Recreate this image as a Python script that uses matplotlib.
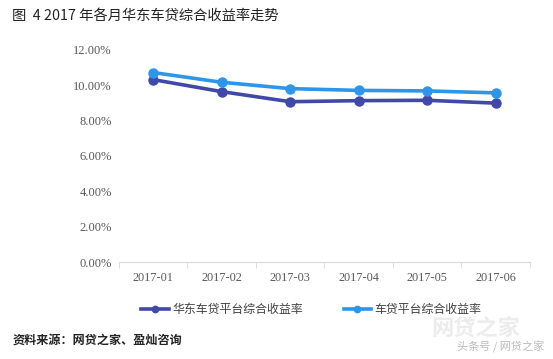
import matplotlib.pyplot as plt
from matplotlib.ticker import FixedLocator

plt.rcParams['font.family'] = ['Noto Sans CJK SC', 'DejaVu Sans']

months = ['2017-01', '2017-02', '2017-03', '2017-04', '2017-05', '2017-06']
huadong = [10.32, 9.64, 9.07, 9.13, 9.15, 8.99]
all_platforms = [10.72, 10.17, 9.81, 9.71, 9.68, 9.57]
yticks = [0, 2, 4, 6, 8, 10, 12]

fig = plt.figure(figsize=(5.53, 3.59), dpi=100)
ax = fig.add_axes([0.215, 0.270, 0.743, 0.591])

x = list(range(len(months)))
ax.plot(x, huadong, color='#4048A8', linewidth=2.6, marker='o', markersize=6.5,
        label='华东车贷平台综合收益率')
ax.plot(x, all_platforms, color='#2E96E8', linewidth=2.6, marker='o', markersize=6.5,
        label='车贷平台综合收益率')

ax.set_xlim(-0.5, len(months) - 0.5)
ax.set_ylim(0, 12)
ax.set_yticks(yticks)
ax.set_yticklabels(['%.2f%%' % v for v in yticks], family='Liberation Serif',
                   fontsize=9, color='#595959')
ax.set_xticks(x)
ax.set_xticklabels(months, family='Liberation Serif', fontsize=8.8, color='#595959')
ax.xaxis.set_minor_locator(FixedLocator([i - 0.5 for i in range(len(months) + 1)]))
ax.tick_params(axis='x', which='major', length=0, pad=7)
ax.tick_params(axis='x', which='minor', length=4, color='#D9D9D9')
ax.tick_params(axis='y', length=0, pad=5)

for s in ['top', 'right', 'left']:
    ax.spines[s].set_visible(False)
ax.spines['bottom'].set_color('#D9D9D9')

leg = fig.legend(loc='center', bbox_to_anchor=(0.563, 0.137), ncol=2, frameon=False,
                 fontsize=8.6, handlelength=2.3, columnspacing=3.4, handletextpad=0.3,
                 markerscale=0.7)
for t in leg.get_texts():
    t.set_color('#404040')

fig.text(0.022, 0.955, '图  4 2017 年各月华东车贷综合收益率走势', fontsize=10.3,
         color='#222222', va='center')
fig.text(0.022, 0.053, '资料来源：网贷之家、盈灿咨询', fontsize=8.7, fontweight='bold',
         color='#222222', va='center')

# watermark
fig.text(0.86, 0.085, '网贷之家', fontsize=16, color='#ECECEC', ha='center', va='center',
         fontweight='bold')
fig.text(0.985, 0.033, '头条号 / 网贷之家', fontsize=8, color='#BBBBBB', ha='right',
         va='center')

plt.savefig('out.png', dpi=100)
